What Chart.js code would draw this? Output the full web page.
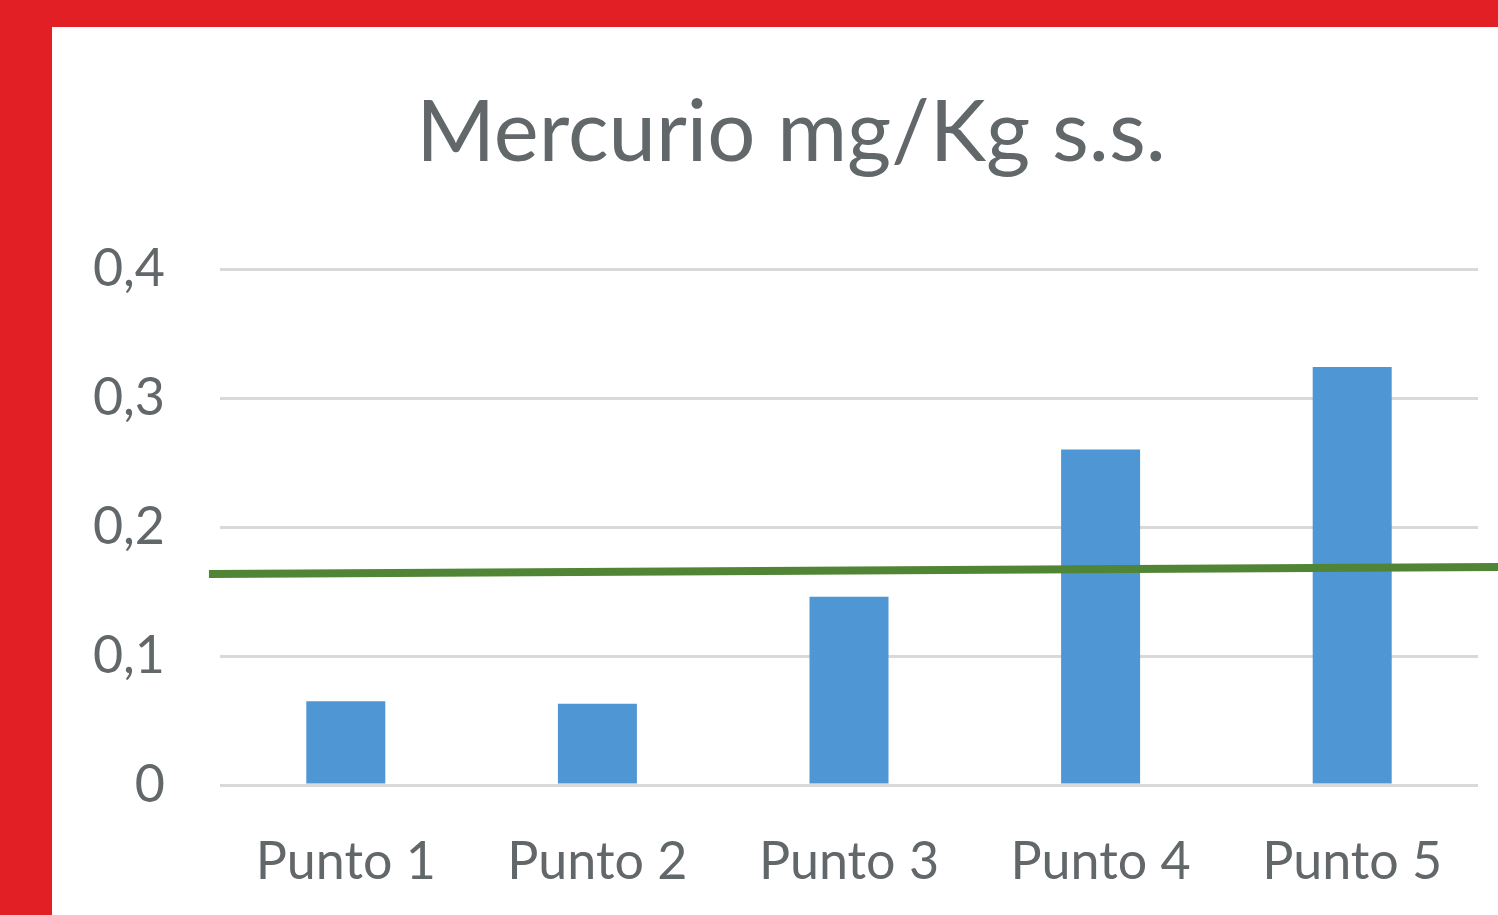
<!DOCTYPE html>
<html>
<head>
<meta charset="utf-8">
<script src="https://cdn.jsdelivr.net/npm/chart.js@4.4.1/dist/chart.umd.min.js"></script>
<style>
  html, body { margin: 0; padding: 0; background: #e31f26; width: 1498px; height: 915px; overflow: hidden; }
  #panel { position: absolute; left: 52px; top: 27px; width: 1446px; height: 888px; background: #ffffff; }
  canvas { display: block; }
</style>
</head>
<body>
<div id="panel"><canvas id="c" width="1446" height="888"></canvas></div>
<script>
const titleText = 'Mercurio mg/Kg s.s.';
const categories = ['Punto 1', 'Punto 2', 'Punto 3', 'Punto 4', 'Punto 5'];
const mercurio = [0.065, 0.063, 0.146, 0.26, 0.324];
// reference line (position along the category axis, value)
const limitX = [-0.544, 4.58];
const limitY = [0.1635, 0.169];
const yTicks = [0, 0.1, 0.2, 0.3, 0.4];

const textColor = '#62676a';

new Chart(document.getElementById('c'), {
  type: 'bar',
  data: {
    datasets: [
      {
        type: 'bar',
        label: 'Mercurio',
        data: mercurio.map((v, i) => ({ x: i, y: v })),
        backgroundColor: '#4e96d4',
        borderWidth: 0,
        barPercentage: 1,
        categoryPercentage: 0.314,
        grouped: false,
        order: 2
      },
      {
        type: 'line',
        label: 'Limite',
        data: limitX.map((x, i) => ({ x: x, y: limitY[i] })),
        borderColor: '#508536',
        borderWidth: 8,
        pointRadius: 0,
        fill: false,
        clip: false,
        order: 1
      }
    ]
  },
  options: {
    responsive: false,
    animation: false,
    layout: { padding: { left: 32, right: 0, top: 56, bottom: 0 } },
    plugins: {
      legend: { display: false },
      tooltip: { enabled: false },
      title: {
        display: true,
        text: titleText,
        color: textColor,
        font: { family: 'Lato', size: 85, weight: 'normal' },
        padding: { top: 0, bottom: 84 }
      }
    },
    scales: {
      x: {
        type: 'linear',
        min: -0.5,
        max: 4.5,
        offset: false,
        afterFit: (s) => { s.height = 130; },
        afterBuildTicks: (s) => { s.ticks = categories.map((c, i) => ({ value: i })); },
        grid: { display: false, drawTicks: false },
        border: { display: false },
        ticks: {
          color: textColor,
          font: { family: 'Lato', size: 52 },
          padding: 46,
          maxRotation: 0,
          autoSkip: false,
          callback: (v) => categories[v]
        }
      },
      y: {
        min: 0,
        max: 0.4,
        afterFit: (s) => { s.width = 136; },
        afterBuildTicks: (s) => { s.ticks = yTicks.map(v => ({ value: v })); },
        grid: { color: '#d9d9d9', lineWidth: 3, drawTicks: false },
        border: { display: false },
        ticks: {
          color: textColor,
          font: { family: 'Lato', size: 52 },
          padding: 55,
          callback: (v) => String(v).replace('.', ',')
        }
      },
      yRight: {
        type: 'linear',
        position: 'right',
        afterFit: (s) => { s.width = 20; },
        grid: { display: false, drawTicks: false },
        border: { display: false },
        ticks: { display: false }
      }
    }
  }
});
</script>
</body>
</html>
